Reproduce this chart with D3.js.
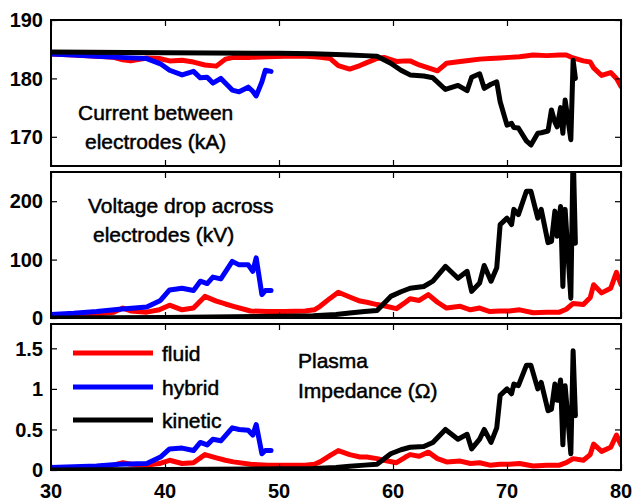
<!DOCTYPE html>
<html>
<head>
<meta charset="utf-8">
<script src="https://cdn.jsdelivr.net/npm/d3@7"></script>
<style>
  body { margin: 0; background: #fff; }
  svg { display: block; font-family: "Liberation Sans", Arial, sans-serif; }
  .tick-label { font-size: 20px; font-weight: bold; fill: #000; }
  .note { font-size: 21px; fill: #000; stroke: #000; stroke-width: 0.5px; }
</style>
</head>
<body>
<svg id="chart" width="636" height="504"></svg>
<script>
"use strict";

// time axis (x) shared by all three panels
const xTicks = [30, 40, 50, 60, 70, 80];

// fluid model
const fluidT = [30, 32, 34, 35.5, 36.3, 37, 38.4, 39.5, 40.4, 41.5, 42.5, 43.5, 44.5, 45.3, 46, 47.5, 49, 50.5,
    52.3, 53.1, 53.6, 54.5, 55.2, 56.2, 57.1, 57.7, 58.6, 59.2, 60.3, 61.1, 61.5, 62.3, 63.1, 63.9, 64.7, 65.9,
    66.8, 67.6, 68.5, 69.4, 70.2, 71.1, 72.3, 73.5, 74.6, 75.2, 75.8, 76.7, 77.3, 77.6, 78.3, 79.1, 79.6, 80];
const fluidCurrent = [184.2, 184.0, 183.8, 183.6, 183.2, 183.0, 183.5, 183.4, 183.0, 183.1, 182.8, 182.3, 182.1,
    183.3, 183.6, 183.6, 183.7, 183.8, 183.8, 183.7, 183.6, 183.4, 182.2, 181.6, 182.2, 182.7, 183.4, 183.6, 182.9,
    183.0, 183.0, 182.3, 181.8, 181.3, 182.6, 182.9, 183.1, 183.3, 183.4, 183.5, 183.6, 183.7, 184.0, 183.9, 184.0,
    184.0, 183.5, 183.0, 182.8, 181.8, 180.5, 181.0, 180.0, 178.6];
const fluidVoltage = [2, 4, 7, 10, 17, 12, 10, 14, 22, 14, 17, 37, 29, 24, 20, 12, 11, 11, 12, 14, 20, 34, 44, 36,
    29, 27, 23, 21, 16, 27, 33, 30, 40, 27, 17, 20, 14, 17, 11, 12, 12, 14, 9, 10, 10, 15, 25, 23, 35, 57, 43, 51,
    78, 57];
const fluidImpedance = [0.01, 0.02, 0.04, 0.06, 0.09, 0.07, 0.06, 0.08, 0.12, 0.08, 0.09, 0.19, 0.15, 0.12, 0.10,
    0.07, 0.06, 0.06, 0.06, 0.07, 0.10, 0.18, 0.24, 0.19, 0.16, 0.16, 0.14, 0.12, 0.09, 0.16, 0.19, 0.17, 0.22,
    0.14, 0.10, 0.11, 0.08, 0.09, 0.06, 0.07, 0.07, 0.08, 0.05, 0.06, 0.06, 0.09, 0.14, 0.12, 0.19, 0.32, 0.23,
    0.28, 0.43, 0.31];

// hybrid model
const hybridT = [30, 32, 34, 36, 38.4, 39.6, 40.4, 41.5, 42.5, 43.1, 43.7, 44.2, 44.9, 45.9, 46.5, 47.3, 47.7,
    48.0, 48.5, 48.8, 49.3];
const hybridCurrent = [184.2, 184.0, 183.8, 183.6, 183.4, 182.5, 181.4, 180.6, 181.2, 180.1, 180.2, 179.2, 180.0,
    178.0, 177.7, 178.5, 177.8, 177.0, 179.4, 181.4, 181.2];
const hybridVoltage = [6, 8, 11, 15, 19, 30, 48, 51, 47, 63, 59, 70, 67, 97, 91, 91, 80, 103, 40, 47, 47];
const hybridImpedance = [0.03, 0.04, 0.05, 0.07, 0.08, 0.16, 0.26, 0.27, 0.24, 0.34, 0.31, 0.38, 0.36, 0.52,
    0.50, 0.49, 0.43, 0.56, 0.20, 0.24, 0.24];

// kinetic model
const kineticT = [30, 40, 50, 53, 55, 56.2, 57.5, 58.6, 59.8, 60.7, 61.5, 62.7, 63.5, 64.6, 65.7, 66.5, 66.9,
    67.6, 68.0, 68.6, 69.1, 69.4, 70.0, 70.4, 70.6, 71.0, 71.7, 72.1, 72.7, 73.0, 73.6, 73.9, 74.2, 74.4, 74.7,
    74.9, 75.1, 75.6, 75.8, 76.0];
const kineticCurrent = [184.5, 184.4, 184.3, 184.2, 184.1, 184.0, 183.9, 183.8, 182.6, 181.4, 180.6, 180.4,
    180.1, 178.1, 178.8, 177.9, 180.2, 180.8, 178.3, 179.0, 179.4, 176.0, 172.0, 172.3, 171.6, 171.5, 169.3, 168.6,
    170.6, 170.7, 171.0, 174.6, 172.5, 171.7, 175.0, 170.6, 176.3, 169.5, 183.1, 180.0];
const kineticVoltage = [0, 1, 3, 4, 6, 8.6, 11, 13, 37, 45, 51, 54, 63, 88.5, 68, 80, 45.6, 60, 90, 63, 86, 160,
    171, 160, 186, 177, 217, 217, 171, 186, 129, 131, 183, 140, 191, 54, 186, 34, 290, 128];
const kineticImpedance = [0, 0.005, 0.015, 0.02, 0.03, 0.045, 0.06, 0.07, 0.2, 0.25, 0.28, 0.29, 0.34, 0.5,
    0.38, 0.44, 0.26, 0.38, 0.5, 0.34, 0.52, 0.92, 1.0, 0.94, 1.06, 1.04, 1.29, 1.29, 1.0, 1.08, 0.73, 0.75, 1.06,
    0.86, 1.11, 0.31, 1.04, 0.2, 1.47, 0.67];

// y ticks / domains for each panel
const currentTicks = [170, 180, 190];
const voltageTicks = [0, 100, 200];
const impedanceTicks = [0, 0.5, 1, 1.5];
const domains = [[165, 190], [0, 250], [0, 1.8]];

const seriesNames = ["fluid", "hybrid", "kinetic"];
const seriesColors = ["#ff0000", "#0000ff", "#000000"];

const svg = d3.select("#chart");
const left = 51, right = 621, panelH = 146;
const panelTops = [20, 172, 324];

const x = d3.scaleLinear().domain([30, 80]).range([left, right]);

const panels = [
    { ticks: currentTicks, values: [fluidCurrent, hybridCurrent, kineticCurrent] },
    { ticks: voltageTicks, values: [fluidVoltage, hybridVoltage, kineticVoltage] },
    { ticks: impedanceTicks, values: [fluidImpedance, hybridImpedance, kineticImpedance] }
];
const times = [fluidT, hybridT, kineticT];

panels.forEach((p, i) => {
    const top = panelTops[i];
    const y = d3.scaleLinear().domain(domains[i]).range([top + panelH, top]);
    const g = svg.append("g");

    g.append("clipPath").attr("id", "clip" + i)
        .append("rect")
        .attr("x", left).attr("y", top)
        .attr("width", right - left).attr("height", panelH);

    const line = d3.line().x(d => x(d[0])).y(d => y(d[1]));
    const plot = g.append("g").attr("clip-path", `url(#clip${i})`);
    seriesNames.forEach((name, s) => {
        const pts = times[s].map((t, k) => [t, p.values[s][k]]);
        plot.append("path")
            .attr("d", line(pts))
            .attr("fill", "none")
            .attr("stroke", seriesColors[s])
            .attr("stroke-width", 5)
            .attr("stroke-linejoin", "round")
            .attr("stroke-linecap", "round");
    });

    // inward ticks on all four sides
    g.append("g").attr("transform", `translate(0,${top + panelH})`)
        .call(d3.axisTop(x).tickValues(xTicks).tickSize(6).tickFormat(""));
    g.append("g").attr("transform", `translate(0,${top})`)
        .call(d3.axisBottom(x).tickValues(xTicks).tickSize(6).tickFormat(""));
    g.append("g").attr("transform", `translate(${left},0)`)
        .call(d3.axisRight(y).tickValues(p.ticks).tickSize(6).tickFormat(""));
    g.append("g").attr("transform", `translate(${right},0)`)
        .call(d3.axisLeft(y).tickValues(p.ticks).tickSize(6).tickFormat(""));
    g.selectAll(".domain").remove();
    g.selectAll(".tick line").attr("stroke", "#000").attr("stroke-width", 1.2);

    g.append("rect")
        .attr("x", left).attr("y", top)
        .attr("width", right - left).attr("height", panelH)
        .attr("fill", "none").attr("stroke", "#000").attr("stroke-width", 2);

    g.selectAll(".ylab").data(p.ticks).join("text")
        .attr("class", "tick-label")
        .attr("x", 43).attr("y", d => y(d)).attr("dy", "0.36em")
        .attr("text-anchor", "end")
        .text(d => d);
});

svg.selectAll(".xlab").data(xTicks).join("text")
    .attr("class", "tick-label")
    .attr("x", d => x(d)).attr("y", 498)
    .attr("text-anchor", "middle")
    .text(d => d);

// panel annotations
const notes = [
    ["Current between", 78, 120], ["electrodes (kA)", 85, 149],
    ["Voltage drop across", 88, 213], ["electrodes (kV)", 93, 242],
    ["Plasma", 298, 368], ["Impedance (\u03a9)", 298, 398]
];
svg.selectAll(".note").data(notes).join("text")
    .attr("class", "note")
    .attr("x", d => d[1]).attr("y", d => d[2])
    .text(d => d[0]);

// legend in bottom panel
const legendY = [353, 387, 420];
const legend = svg.append("g");
seriesNames.forEach((name, s) => {
    legend.append("line")
        .attr("x1", 73).attr("x2", 153)
        .attr("y1", legendY[s]).attr("y2", legendY[s])
        .attr("stroke", seriesColors[s]).attr("stroke-width", 5);
    legend.append("text")
        .attr("class", "note")
        .attr("x", 162).attr("y", legendY[s] + 7.5)
        .text(name);
});
</script>
</body>
</html>
